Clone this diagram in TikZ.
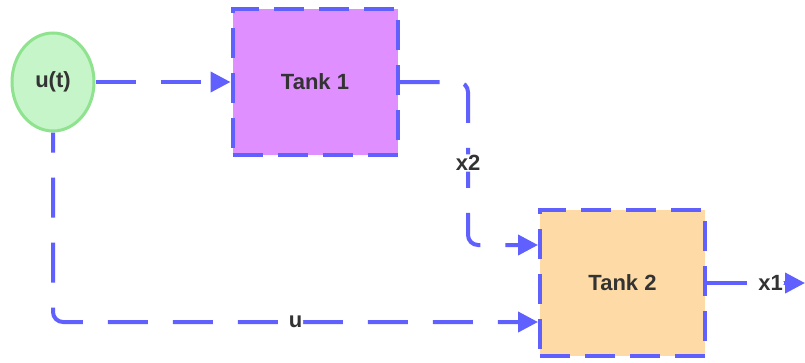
\documentclass[tikz,border=0pt]{standalone}
\usepackage{fontspec}
\setmainfont{Liberation Sans}
\usetikzlibrary{shapes.geometric,arrows.meta}
\definecolor{lineblue}{RGB}{96,96,255}
\definecolor{tankpurple}{RGB}{223,143,255}
\definecolor{tankorange}{RGB}{254,219,166}
\definecolor{ufill}{RGB}{197,245,200}
\definecolor{uborder}{RGB}{143,227,143}
\definecolor{txt}{RGB}{51,51,51}
\begin{document}
\begin{tikzpicture}[x=1pt,y=-1pt,
  every node/.style={font=\fontsize{22}{26}\selectfont\bfseries, text=txt},
  tankbox/.style={draw=lineblue, line width=4pt, dash pattern=on 30pt off 15pt, rectangle, minimum width=165pt, minimum height=146pt},
  srcnode/.style={ellipse, draw=uborder, fill=ufill, line width=3pt, minimum width=82pt, minimum height=98pt, inner sep=0pt},
  conn/.style={draw=lineblue, line width=4pt, dash pattern=on 40pt off 25pt, rounded corners=10pt, -{Triangle[length=20pt,width=20pt]}},
  lbl/.style={fill=white, inner sep=1pt}]
\useasboundingbox (0,0) rectangle (805,362);
\node[srcnode] (u) at (53,82) {u(t)};
\node[tankbox, fill=tankpurple] (t1) at (315,82) {Tank 1};
\node[tankbox, fill=tankorange] (t2) at (622.5,283) {Tank 2};
\coordinate (out) at (805,283);
\draw[conn] (u.east) -- (t1.west);
\draw[conn] (t1.east) -| (468,163) node[lbl] (x2) {x2} |- ([yshift=38pt]t2.west);
\draw[conn, dash phase=20pt] (u.south) |- node[lbl, pos=0.75] (ul) {u} ([yshift=-39pt]t2.west);
\draw[conn] (t2.east) -- node[lbl, pos=0.65] (x1) {x1} (out);
\end{tikzpicture}
\end{document}
